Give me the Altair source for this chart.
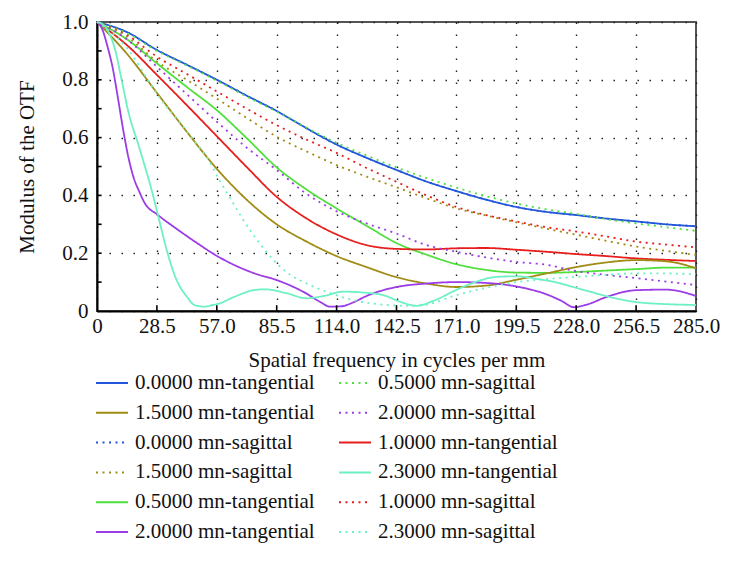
import altair as alt
import pandas as pd

# ---------------- data ----------------
F = [0, 14.25, 28.5, 42.75, 57, 71.25, 85.5, 99.75, 114, 128.25, 142.5,
     156.75, 171, 185.25, 199.5, 213.75, 228, 242.25, 256.5, 270.75, 285]

tan_00 = [1.0, 0.965, 0.903, 0.852, 0.80, 0.745, 0.692, 0.632, 0.576, 0.53, 0.488,
          0.448, 0.415, 0.385, 0.36, 0.343, 0.332, 0.32, 0.31, 0.30, 0.293]
sag_00 = [1.0, 0.965, 0.903, 0.852, 0.80, 0.745, 0.692, 0.632, 0.576, 0.53, 0.488,
          0.448, 0.415, 0.385, 0.36, 0.343, 0.332, 0.32, 0.31, 0.30, 0.293]
sag_05 = [1.0, 0.962, 0.90, 0.85, 0.797, 0.742, 0.69, 0.634, 0.582, 0.538, 0.497,
          0.46, 0.427, 0.397, 0.372, 0.352, 0.336, 0.318, 0.303, 0.29, 0.277]
sag_10 = [1.0, 0.955, 0.88, 0.82, 0.76, 0.70, 0.643, 0.593, 0.547, 0.495, 0.447,
          0.40, 0.36, 0.332, 0.31, 0.29, 0.275, 0.258, 0.24, 0.23, 0.22]
sag_15 = [1.0, 0.95, 0.863, 0.80, 0.735, 0.668, 0.603, 0.552, 0.505, 0.465, 0.428,
          0.39, 0.355, 0.33, 0.307, 0.285, 0.264, 0.243, 0.223, 0.208, 0.194]
tan_05 = [1.0, 0.94, 0.857, 0.775, 0.695, 0.598, 0.497, 0.42, 0.355, 0.295, 0.235,
          0.195, 0.162, 0.142, 0.133, 0.132, 0.135, 0.14, 0.145, 0.15, 0.15]
tan_10 = [1.0, 0.92, 0.817, 0.712, 0.605, 0.498, 0.395, 0.32, 0.265, 0.228, 0.215,
          0.213, 0.217, 0.218, 0.212, 0.205, 0.197, 0.19, 0.182, 0.177, 0.173]
tan_15 = [1.0, 0.89, 0.755, 0.62, 0.492, 0.385, 0.30, 0.24, 0.19, 0.152, 0.117,
          0.095, 0.083, 0.088, 0.108, 0.13, 0.152, 0.168, 0.176, 0.172, 0.148]
sag_20 = [1.0, 0.94, 0.845, 0.75, 0.655, 0.565, 0.488, 0.405, 0.345, 0.303, 0.268,
          0.228, 0.205, 0.185, 0.17, 0.16, 0.138, 0.125, 0.114, 0.102, 0.09]

F_tan_20 = [0, 2.5, 5, 7.5, 10, 12.5, 15, 17.5, 20, 23, 28.5, 38.7, 46.6, 57.7, 75,
            85.5, 99.75, 106, 111, 116, 122, 128.25, 142.5, 156.75, 171, 185.25,
            199.5, 213.75, 221, 227, 233, 242.25, 256.5, 270.75, 285]
tan_20 = [1.0, 0.975, 0.915, 0.84, 0.735, 0.625, 0.53, 0.46, 0.415, 0.37, 0.335,
          0.28, 0.24, 0.188, 0.13, 0.107, 0.06, 0.032, 0.015, 0.016, 0.03, 0.052,
          0.083, 0.095, 0.10, 0.097, 0.085, 0.058, 0.035, 0.013, 0.022, 0.048,
          0.072, 0.074, 0.052]

F_tan_23 = [0, 3, 5.4, 8.6, 11.7, 14.9, 19.7, 22.8, 25.2, 29.2, 33.2, 37.9, 42.7,
            46.6, 51.4, 54.6, 57.7, 65.7, 75.2, 80, 90, 99.8, 108, 117.2, 128,
            136.2, 145, 152, 160, 171, 180, 190, 199.5, 210, 218, 228, 237, 246,
            256.5, 270, 285]
tan_23 = [1.0, 0.99, 0.966, 0.905, 0.80, 0.69, 0.575, 0.50, 0.44, 0.326, 0.21,
          0.107, 0.05, 0.02, 0.015, 0.02, 0.025, 0.05, 0.073, 0.075, 0.062, 0.044,
          0.052, 0.067, 0.063, 0.055, 0.03, 0.018, 0.035, 0.073, 0.10, 0.118,
          0.12, 0.11, 0.10, 0.08, 0.062, 0.045, 0.031, 0.024, 0.021]

F_sag_23 = [0, 14.25, 26, 32.4, 37.9, 45, 52, 58.5, 65, 72.8, 80, 85.5, 92, 99.8,
            110.9, 123.6, 136, 148, 155, 171, 185, 199.5, 213, 228, 242, 256.5,
            270, 285]
sag_23 = [1.0, 0.91, 0.78, 0.713, 0.667, 0.60, 0.535, 0.45, 0.37, 0.28, 0.21,
          0.165, 0.125, 0.095, 0.062, 0.035, 0.022, 0.018, 0.02, 0.055, 0.08,
          0.10, 0.11, 0.118, 0.125, 0.13, 0.13, 0.127]

# legend order: first column top-down, then second column
col1 = ["0.0000 mn-tangential", "1.5000 mn-tangential", "0.0000 mn-sagittal",
        "1.5000 mn-sagittal", "0.5000 mn-tangential", "2.0000 mn-tangential"]
col2 = ["0.5000 mn-sagittal", "2.0000 mn-sagittal", "1.0000 mn-tangential",
        "2.3000 mn-tangential", "1.0000 mn-sagittal", "2.3000 mn-sagittal"]
order = col1 + col2

field_colors = {"0.0000": "#2356dc", "0.5000": "#4fe03c", "1.0000": "#e61e1e",
                "1.5000": "#a08c14", "2.0000": "#9b3ce6", "2.3000": "#6cf0c4"}

series = {
    "0.0000 mn-tangential": (F, tan_00),
    "0.0000 mn-sagittal": (F, sag_00),
    "0.5000 mn-tangential": (F, tan_05),
    "0.5000 mn-sagittal": (F, sag_05),
    "1.0000 mn-tangential": (F, tan_10),
    "1.0000 mn-sagittal": (F, sag_10),
    "1.5000 mn-tangential": (F, tan_15),
    "1.5000 mn-sagittal": (F, sag_15),
    "2.0000 mn-tangential": (F_tan_20, tan_20),
    "2.0000 mn-sagittal": (F, sag_20),
    "2.3000 mn-tangential": (F_tan_23, tan_23),
    "2.3000 mn-sagittal": (F_sag_23, sag_23),
}

rows = []
for name, (xs, ys) in series.items():
    for x, y in zip(xs, ys):
        rows.append({"series": name, "f": x, "v": y})
df = pd.DataFrame(rows)

color_range = [field_colors[n.split()[0]] for n in order]
dash_range = [[1, 0] if "tangential" in n else [2, 4.5] for n in order]

x_ticks = [0, 28.5, 57, 85.5, 114, 142.5, 171, 199.5, 228, 256.5, 285]
y_ticks = [0, 0.1, 0.2, 0.3, 0.4, 0.5, 0.6, 0.7, 0.8, 0.9, 1.0]

FONT = "Liberation Serif"

xscale = alt.Scale(domain=[0, 285], nice=False, zero=False)
yscale = alt.Scale(domain=[0, 1], nice=False)

lines = alt.Chart(df).mark_line(strokeWidth=1.8, interpolate="monotone").encode(
    x=alt.X("f:Q", scale=xscale,
            axis=alt.Axis(values=x_ticks, title="Spatial frequency in cycles per mm",
                          labelExpr="datum.value == 0 ? '0' : format(datum.value, '.1f')",
                          labelOverlap=False, labelBound=False, labelFlush=False,
                          tickSize=0, labelPadding=4, titlePadding=13,
                          grid=True)),
    y=alt.Y("v:Q", scale=yscale,
            axis=alt.Axis(values=y_ticks, title="Modulus of the OTF",
                          labelExpr="datum.value == 0 ? '0' : (round(datum.value*10) % 2 == 0 ? format(datum.value, '.1f') : '')",
                          labelOverlap=False, labelFlush=False,
                          tickSize=0, labelPadding=9, titlePadding=24,
                          grid=True)),
    color=alt.Color("series:N", scale=alt.Scale(domain=order, range=color_range),
                    legend=alt.Legend(title=None, orient="none", legendX=-2, legendY=344,
                                      columns=2, symbolType="stroke", symbolSize=1024,
                                      symbolStrokeWidth=2, labelFontSize=21, labelFont=FONT,
                                      labelColor="#111", columnPadding=20, rowPadding=2.8,
                                      labelOffset=6, labelLimit=400)),
    strokeDash=alt.StrokeDash("series:N", scale=alt.Scale(domain=order, range=dash_range),
                              legend=None),
    detail="series:N",
)

xtick_df = pd.DataFrame({"t": x_ticks[1:-1]})
ytick_df = pd.DataFrame({"t": y_ticks[1:-1]})
xticks = alt.Chart(xtick_df).mark_rule(color="black", strokeWidth=1.6).encode(
    x=alt.X("t:Q", scale=xscale), y=alt.datum(0), y2=alt.datum(0.02))
yticks = alt.Chart(ytick_df).mark_rule(color="black", strokeWidth=1.6).encode(
    y=alt.Y("t:Q", scale=yscale), x=alt.datum(0), x2=alt.datum(2.2))

chart = alt.layer(lines, xticks, yticks).properties(
    width=599, height=289,
    autosize=alt.AutoSizeParams(type="none"),
    padding={"left": 89, "top": 14, "right": 28, "bottom": 250},
).configure_axis(
    labelFont=FONT, titleFont=FONT, labelFontSize=21, titleFontSize=21,
    labelColor="#111", titleColor="#111", titleFontWeight="normal",
    domainColor="black", domainWidth=2,
    gridColor="#222", gridDash=[1.5, 10.5], gridWidth=1.4, gridOpacity=1,
).configure_view(stroke="#555", strokeWidth=2)

chart.save("out.html", embed_options={"renderer": "svg", "actions": False})
